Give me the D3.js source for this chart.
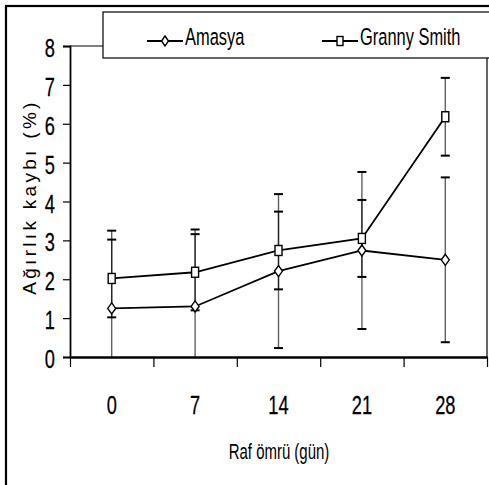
<!DOCTYPE html>
<html>
<head>
<meta charset="utf-8">
<script src="https://cdn.jsdelivr.net/npm/d3@7"></script>
<style>
  html, body { margin: 0; padding: 0; background: #fff; }
  svg { display: block; }
  text { font-family: "Liberation Sans", Arial, sans-serif; }
</style>
</head>
<body>
<svg id="chart" width="489" height="485"></svg>
<script>
// Shelf life (days) on the x axis
const days = ["0", "7", "14", "21", "28"];
// Weight loss (%) per cultivar, with standard deviation
const amasyaMean = [1.25, 1.30, 2.21, 2.74, 2.50];
const amasyaSd   = [2.00, 1.98, 1.98, 2.02, 2.12];
const grannyMean = [2.02, 2.18, 2.74, 3.05, 6.18];
const grannySd   = [1.00, 0.98, 1.00, 0.99, 1.00];
const yTicks = [0, 1, 2, 3, 4, 5, 6, 7, 8];
const seriesNames = ["Amasya", "Granny Smith"];
const yTitle = "Ağırlık kaybı (%)";
const xTitle = "Raf ömrü (gün)";

const series = [
  { name: seriesNames[0], mean: amasyaMean, sd: amasyaSd, marker: "diamond" },
  { name: seriesNames[1], mean: grannyMean, sd: grannySd, marker: "square" }
];

const svg = d3.select("#chart");
const plot = { left: 70, right: 487, top: 46, bottom: 357 };

const x = d3.scaleBand().domain(days).range([plot.left, plot.right]).padding(0);
const xEdges = d3.scaleLinear().domain([0, days.length]).range([plot.left, plot.right]);
const y = d3.scaleLinear().domain([0, 8]).range([plot.bottom, plot.top]);
const cx = d => x(d) + x.bandwidth() / 2;

// condensed lettering: horizontal squeeze of a text anchored at (px, py)
function condensed(sel, px, py, sx) {
  return sel.attr("x", 0).attr("y", 0)
    .attr("transform", `translate(${px},${py}) scale(${sx},1)`);
}

// outer chart frame
svg.append("rect")
  .attr("x", 6).attr("y", 6).attr("width", 600).attr("height", 600)
  .attr("fill", "#fff").attr("stroke", "#000").attr("stroke-width", 2.2);

// plot area top and right edges
svg.append("line").attr("x1", plot.left).attr("x2", plot.right)
  .attr("y1", plot.top).attr("y2", plot.top).attr("stroke", "#000").attr("stroke-width", 1.2);
svg.append("line").attr("x1", plot.right).attr("x2", plot.right)
  .attr("y1", plot.top).attr("y2", plot.bottom).attr("stroke", "#000").attr("stroke-width", 1.2);

// y axis
const tickSx = 0.73;
const yAxis = svg.append("g")
  .attr("transform", `translate(${plot.left},0)`)
  .call(d3.axisLeft(y).tickValues(yTicks).tickFormat(d3.format("d")).tickSizeOuter(0).tickSize(7).tickPadding(8));
yAxis.select(".domain").attr("stroke-width", 1.8);
yAxis.selectAll(".tick line").attr("stroke-width", 1.2);
yAxis.selectAll(".tick text")
  .attr("font-size", 25).attr("fill", "#000")
  .attr("stroke", "#000").attr("stroke-width", 0.25)
  .attr("dy", "0.42em")
  .attr("x", -15 / tickSx)
  .attr("transform", `scale(${tickSx},1)`);

// x axis: tick marks at category boundaries
const xAxisEdges = svg.append("g")
  .attr("transform", `translate(0,${plot.bottom})`)
  .call(d3.axisBottom(xEdges).tickValues(d3.range(days.length + 1)).tickFormat("").tickSize(10).tickSizeOuter(0));
xAxisEdges.select(".domain").attr("stroke-width", 2.4);
xAxisEdges.selectAll(".tick line").attr("stroke-width", 1.2);

// x axis: category labels centred in each band
const xAxisLabels = svg.append("g")
  .attr("transform", `translate(0,${plot.bottom})`)
  .call(d3.axisBottom(x).tickSize(0).tickPadding(57));
xAxisLabels.select(".domain").remove();
xAxisLabels.selectAll(".tick text")
  .attr("font-size", 25).attr("fill", "#000").attr("dy", 0)
  .attr("stroke", "#000").attr("stroke-width", 0.25)
  .attr("transform", `scale(${tickSx},1)`);

// axis titles
condensed(svg.append("text"), (plot.left + plot.right) / 2 + 0.5, 459, 0.68)
  .attr("text-anchor", "middle").attr("font-size", 22)
  .text(xTitle);

svg.append("text")
  .attr("transform", "translate(36,197) rotate(-90)")
  .attr("text-anchor", "middle")
  .attr("font-size", 19).attr("letter-spacing", 3.3)
  .text(yTitle);

// error bars
const errG = svg.append("g");
series.forEach(s => {
  days.forEach((d, i) => {
    const hi = Math.min(8, s.mean[i] + s.sd[i]);
    const lo = Math.max(0, s.mean[i] - s.sd[i]);
    errG.append("line")
      .attr("x1", cx(d)).attr("x2", cx(d))
      .attr("y1", y(hi)).attr("y2", y(lo))
      .attr("stroke", "#000").attr("stroke-opacity", 0.62).attr("stroke-width", 1.4);
    [s.mean[i] + s.sd[i], s.mean[i] - s.sd[i]].forEach(v => {
      if (v < 0 || v > 8) return;
      errG.append("line")
        .attr("x1", cx(d) - 4.5).attr("x2", cx(d) + 4.5)
        .attr("y1", y(v)).attr("y2", y(v))
        .attr("stroke", "#000").attr("stroke-width", 2);
    });
  });
});

// marker shapes
function drawMarker(g, kind, px, py, w, h) {
  if (kind === "diamond") {
    g.append("path")
      .attr("d", `M${px},${py - h / 2}L${px + w / 2},${py}L${px},${py + h / 2}L${px - w / 2},${py}Z`)
      .attr("fill", "#fff").attr("stroke", "#000").attr("stroke-width", 1.4);
  } else {
    g.append("rect")
      .attr("x", px - w / 2).attr("y", py - h / 2).attr("width", w).attr("height", h)
      .attr("fill", "#fff").attr("stroke", "#000").attr("stroke-width", 1.4);
  }
}

// series lines and markers
const line = d3.line().x((v, i) => cx(days[i])).y(v => y(v));
series.forEach(s => {
  svg.append("path").datum(s.mean)
    .attr("d", line).attr("fill", "none")
    .attr("stroke", "#000").attr("stroke-width", 1.8);
});
series.forEach(s => {
  const g = svg.append("g");
  s.mean.forEach((v, i) => {
    if (s.marker === "diamond") drawMarker(g, "diamond", cx(days[i]), y(v), 8, 11);
    else drawMarker(g, "square", cx(days[i]), y(v), 7, 10);
  });
});

// legend
const legend = svg.append("g");
legend.append("rect")
  .attr("x", 103).attr("y", 12).attr("width", 500).attr("height", 46)
  .attr("fill", "#fff").attr("stroke", "#000").attr("stroke-width", 1.2);
const legendItems = [
  { s: series[0], x0: 147, x1: 183, tx: 185 },
  { s: series[1], x0: 322, x1: 358, tx: 360 }
];
legendItems.forEach(it => {
  const ly = 41;
  legend.append("line").attr("x1", it.x0).attr("x2", it.x1)
    .attr("y1", ly).attr("y2", ly).attr("stroke", "#000").attr("stroke-width", 1.8);
  if (it.s.marker === "diamond") drawMarker(legend, "diamond", (it.x0 + it.x1) / 2, ly, 7, 10);
  else drawMarker(legend, "square", (it.x0 + it.x1) / 2, ly, 6, 9);
  condensed(legend.append("text"), it.tx, 44.5, 0.7)
    .attr("font-size", 23.5)
    .text(it.s.name);
});
</script>
</body>
</html>
